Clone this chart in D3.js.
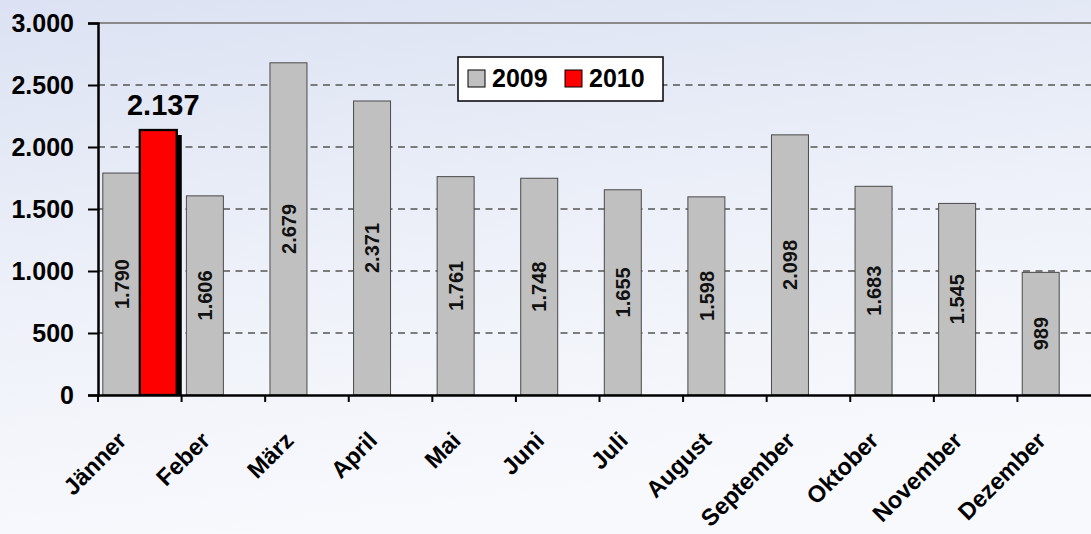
<!DOCTYPE html>
<html>
<head>
<meta charset="utf-8">
<script src="https://cdn.jsdelivr.net/npm/d3@7/dist/d3.min.js"></script>
<style>
  html, body { margin: 0; padding: 0; overflow: hidden; }
  body { width: 1091px; height: 534px; }
  svg { display: block; font-family: "Liberation Sans", Arial, sans-serif; }
</style>
</head>
<body>
<svg id="chart" width="1091" height="534"></svg>
<script>
const categories = ["Jänner", "Feber", "März", "April", "Mai", "Juni", "Juli", "August", "September", "Oktober", "November", "Dezember"];
const seriesNames = ["2009", "2010"];
const values2009 = [1790, 1606, 2679, 2371, 1761, 1748, 1655, 1598, 2098, 1683, 1545, 989];
const values2010 = [2137, null, null, null, null, null, null, null, null, null, null, null];
const yTicks = [0, 500, 1000, 1500, 2000, 2500, 3000];
const seriesColors = ["#c0c0c0", "#ff0000"];

const fmt = v => d3.format(",")(v).replace(/,/g, ".");

const svg = d3.select("#chart");
const W = 1091, H = 534;
const mLeft = 98, mRight = 1101, mTop = 23, mBottom = 395;

// background gradient
const defs = svg.append("defs");
const grad = defs.append("linearGradient").attr("id", "bg")
  .attr("x1", "0").attr("y1", "0").attr("x2", "0.25").attr("y2", "1");
grad.append("stop").attr("offset", "0%").attr("stop-color", "#dce2f3");
grad.append("stop").attr("offset", "55%").attr("stop-color", "#eef1f9");
grad.append("stop").attr("offset", "100%").attr("stop-color", "#f8f9fd");
svg.append("rect").attr("width", W).attr("height", H).attr("fill", "url(#bg)");

defs.append("clipPath").attr("id", "plotclip")
  .append("rect").attr("x", mLeft).attr("y", 0).attr("width", mRight - mLeft).attr("height", mBottom);

const x0 = d3.scaleBand().domain(categories).range([mLeft, mRight]).paddingInner(0).paddingOuter(0);
const x1 = d3.scaleBand().domain(seriesNames).range([0, x0.bandwidth()]).paddingInner(0).paddingOuter(0.13);
const y = d3.scaleLinear().domain([0, 3000]).range([mBottom, mTop]);

// gridlines
const grid = svg.append("g");
grid.selectAll("line.g").data(yTicks.filter(t => t > 0 && t < 3000)).join("line")
  .attr("x1", mLeft).attr("x2", W)
  .attr("y1", d => y(d)).attr("y2", d => y(d))
  .attr("stroke", "#555").attr("stroke-width", 1.3).attr("stroke-dasharray", "7,5.5");
grid.append("line").attr("x1", mLeft).attr("x2", W)
  .attr("y1", y(3000)).attr("y2", y(3000))
  .attr("stroke", "#8a8a8a").attr("stroke-width", 2);

// bars
const rows = categories.map((c, i) => ({ cat: c, vals: [values2009[i], values2010[i]] }));
const plot = svg.append("g").attr("clip-path", "url(#plotclip)");
rows.forEach(r => {
  r.vals.forEach((v, si) => {
    if (v == null) return;
    const bx = x0(r.cat) + x1(seriesNames[si]);
    const bw = x1.bandwidth();
    if (si === 1) {
      plot.append("rect").attr("x", bx + 5).attr("y", y(v) + 5)
        .attr("width", bw).attr("height", mBottom - y(v))
        .attr("fill", "#000");
      plot.append("rect").attr("x", bx).attr("y", y(v))
        .attr("width", bw).attr("height", mBottom - y(v))
        .attr("fill", seriesColors[si]).attr("stroke", "#000").attr("stroke-width", 2.3);
    } else {
      plot.append("rect").attr("x", bx).attr("y", y(v))
        .attr("width", bw).attr("height", mBottom - y(v))
        .attr("fill", seriesColors[si]).attr("stroke", "#4a4a4a").attr("stroke-width", 1);
    }
  });
});

// bar labels
rows.forEach(r => {
  const v = r.vals[0];
  const cx = x0(r.cat) + x1("2009") + x1.bandwidth() / 2;
  const cy = (y(v) + mBottom) / 2;
  svg.append("text")
    .attr("transform", `translate(${cx},${cy}) rotate(-90)`)
    .attr("text-anchor", "middle").attr("dy", "0.36em")
    .attr("font-size", 20).attr("font-weight", "bold").attr("fill", "#111")
    .text(fmt(v));
  const v2 = r.vals[1];
  if (v2 != null) {
    const cx2 = x0(r.cat) + x1("2010") + x1.bandwidth() / 2 + 5;
    svg.append("text").attr("x", cx2).attr("y", y(v2) - 15)
      .attr("text-anchor", "middle")
      .attr("font-size", 29).attr("font-weight", "bold").attr("fill", "#000")
      .text(fmt(v2));
  }
});

// axes
const yAxis = d3.axisLeft(y).tickValues(yTicks).tickSize(10).tickPadding(14).tickFormat(fmt);
const gy = svg.append("g").attr("transform", `translate(${mLeft},0)`).call(yAxis);
gy.select(".domain").attr("stroke", "#000").attr("stroke-width", 2.5);
gy.selectAll(".tick line").attr("stroke", "#000").attr("stroke-width", 2);
gy.selectAll(".tick text").attr("font-size", 25).attr("font-weight", "bold").attr("fill", "#000")
  .attr("font-family", "'Liberation Sans', Arial, sans-serif");

const xAxis = d3.axisBottom(x0).tickSize(0).tickFormat("");
const gx = svg.append("g").attr("transform", `translate(0,${mBottom})`).call(xAxis);
gx.select(".domain").attr("stroke", "#000").attr("stroke-width", 2.5);
gx.selectAll(".tick").remove();
// boundary ticks
const bounds = categories.map(c => x0(c));
gx.selectAll("line.bt").data(bounds).join("line")
  .attr("x1", d => d).attr("x2", d => d).attr("y1", 0).attr("y2", 7)
  .attr("stroke", "#000").attr("stroke-width", 2);

// x labels
svg.append("g").selectAll("text").data(categories).join("text")
  .attr("transform", d => `translate(${x0(d) + x0.bandwidth() / 2 - 12},${mBottom + 47}) rotate(-45)`)
  .attr("text-anchor", "end")
  .attr("font-size", 23.5).attr("font-weight", "bold").attr("fill", "#000")
  .text(d => d);

// legend
const lg = svg.append("g");
lg.append("rect").attr("x", 458).attr("y", 57).attr("width", 205).attr("height", 44)
  .attr("fill", "#fff").attr("stroke", "#000").attr("stroke-width", 1.5);
const legX = [468, 565];
seriesNames.forEach((s, i) => {
  lg.append("rect").attr("x", legX[i]).attr("y", 70).attr("width", 17).attr("height", 17)
    .attr("fill", seriesColors[i]).attr("stroke", "#000").attr("stroke-width", 1);
  lg.append("text").attr("x", legX[i] + 24).attr("y", 87)
    .attr("font-size", 25).attr("font-weight", "bold").attr("fill", "#000").text(s);
});
</script>
</body>
</html>
